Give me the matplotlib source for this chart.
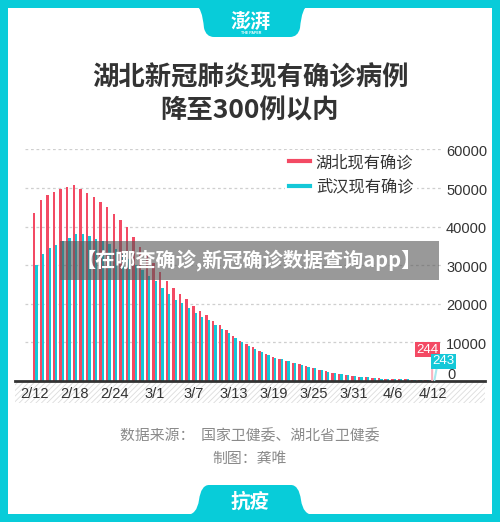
import matplotlib
matplotlib.use('Agg')
import matplotlib.pyplot as plt
from matplotlib.patches import Rectangle, PathPatch
from matplotlib.path import Path
from matplotlib.lines import Line2D
import matplotlib.transforms as mtransforms

plt.rcParams['font.family'] = ['Noto Sans CJK SC', 'DejaVu Sans']
plt.rcParams['hatch.linewidth'] = 0.6

# existing confirmed cases per day, 2/12 .. 4/12
hubei = [43455, 46806, 48175, 49030, 49847, 50338, 50633, 49665, 48730, 47647,
         46439, 45054, 43369, 41660, 39755, 37263, 34715, 32959, 30543, 28216,
         25905, 23972, 22628, 21239, 19486, 18248, 16993, 15593, 14407, 13171,
         11755, 10431, 9605, 8701, 7750, 6988, 6287, 5719, 5224, 4768,
         4316, 3843, 3437, 2900, 2529, 2130, 1826, 1462, 1283, 1132,
         987, 834, 648, 577, 518, 467, 403, 352, 323, 300, 244]
wuhan = [30043, 33000, 34400, 35300, 36300, 37100, 38000, 38020, 37500, 36700,
         36200, 35600, 34300, 33000, 31500, 30000, 28700, 27300, 25900, 24100,
         22400, 21000, 20100, 18900, 17700, 16600, 15700, 14500, 13500, 12400,
         11100, 10000, 9100, 8300, 7500, 6700, 6000, 5600, 5100, 4700,
         4200, 3600, 3300, 2800, 2300, 2000, 1700, 1500, 1300, 1100,
         950, 850, 640, 570, 510, 460, 400, 350, 320, 298, 243]
tick_days = [0, 6, 12, 18, 24, 30, 36, 42, 48, 54, 60]
tick_labels = ['2/12', '2/18', '2/24', '3/1', '3/7', '3/13', '3/19', '3/25', '3/31', '4/6', '4/12']
y_ticks = [0, 10000, 20000, 30000, 40000, 50000, 60000]
series_names = ['湖北现有确诊', '武汉现有确诊']

RED = '#F34A64'
CYAN = '#14C8D8'
TEAL = '#08CCD9'
DARK = '#333333'
NUM_FONT = ['Liberation Sans', 'Noto Sans CJK SC']

W, H = 500, 522
fig = plt.figure(figsize=(W / 100, H / 100), dpi=100)
fig.patch.set_facecolor(TEAL)


def fx(x):
    return x / W


def fy(y):
    return 1 - y / H


def pix_path(pts, codes):
    return Path([(fx(x), fy(y)) for x, y in pts], codes)


# white panel
fig.add_artist(Rectangle((fx(8), fy(514)), fx(484), 506 / H, facecolor='white',
                         edgecolor='none', transform=fig.transFigure, zorder=-5))

# top tab with logo
M, L, C = Path.MOVETO, Path.LINETO, Path.CURVE3
top_pts = [(196, 6), (202, 7), (204, 28), (206, 37), (214, 37), (290, 37), (298, 37),
           (300, 28), (302, 7), (308, 6), (196, 6)]
top_codes = [M, C, C, C, C, L, C, C, C, C, Path.CLOSEPOLY]
fig.add_artist(PathPatch(pix_path(top_pts, top_codes), facecolor=TEAL, edgecolor='none',
                         transform=fig.transFigure, zorder=-4))
fig.text(fx(251), fy(21), '澎湃', color='white', fontsize=14.5, fontweight='bold',
         ha='center', va='center', fontstyle='italic')
fig.text(fx(251), fy(32.5), 'THE PAPER', color='white', fontsize=2.6, fontweight='bold',
         ha='center', va='center', family=NUM_FONT)

# bottom tab
bot_pts = [(186, 515), (197, 515), (199, 500), (201, 485), (209, 485), (291, 485),
           (299, 485), (301, 500), (303, 515), (314, 515), (186, 515)]
fig.add_artist(PathPatch(pix_path(bot_pts, top_codes), facecolor=TEAL, edgecolor='none',
                         transform=fig.transFigure, zorder=-4))
fig.text(fx(250), fy(502), '抗疫', color='white', fontsize=14, fontweight='bold',
         ha='center', va='center')

# title
fig.text(fx(250), fy(78), '湖北新冠肺炎现有确诊病例', color=DARK, fontsize=19,
         fontweight='bold', ha='center', va='center')
fig.text(fx(250), fy(111), '降至300例以内', color=DARK, fontsize=19,
         fontweight='bold', ha='center', va='center')

# hatched band under the x axis
fig.add_artist(Rectangle((fx(15), fy(403)), fx(470), 22 / H, facecolor='white',
                         edgecolor='#dcdcdc', hatch='//////', lw=0,
                         transform=fig.transFigure, zorder=-3))

# chart
ax = fig.add_axes([fx(15), fy(381), fx(470), (381 - 149.3) / H])
ax.set_facecolor('none')
ax.set_xlim(-3.0, 67.85)
ax.set_ylim(0, 60000)
days = list(range(len(hubei)))
ax.bar([d - 0.12 for d in days[:-1]], hubei[:-1], width=0.36, color=RED, zorder=3)
ax.bar([d + 0.23 for d in days[:-1]], wuhan[:-1], width=0.34, color=CYAN, zorder=3)

for v in y_ticks[1:]:
    ax.axhline(v, xmin=10 / 470, xmax=428 / 470, color='#cfcfcf', lw=0.9,
               ls=(0, (2.2, 2.2)), zorder=1)

for s in ['top', 'right', 'left']:
    ax.spines[s].set_visible(False)
ax.spines['bottom'].set_color(DARK)
ax.spines['bottom'].set_linewidth(2)
ax.spines['bottom'].set_zorder(4)
ax.set_yticks([])
ax.set_xticks(tick_days)
ax.set_xticklabels(tick_labels, family=NUM_FONT, fontsize=10.5, color=DARK)
ax.tick_params(axis='x', length=0, pad=4)

ytrans = mtransforms.blended_transform_factory(fig.transFigure, ax.transData)
for v in y_ticks[1:]:
    ax.text(fx(446), v - 700, str(v), transform=ytrans, family=NUM_FONT, fontsize=10.5,
            color=DARK, ha='left', va='center')
ax.text(fx(447), 400, '0', transform=ytrans, family=NUM_FONT, fontsize=10.5,
        color=DARK, ha='left', va='baseline')

# last-day labels
ax.annotate(str(hubei[-1]), xy=(days[-1] - 0.12, hubei[-1]), xytext=(-3.5, 22),
            textcoords='offset points', ha='center', va='center', color='white',
            family=NUM_FONT, fontsize=9.5,
            bbox=dict(boxstyle='square,pad=0.1', fc=RED, ec='none'),
            arrowprops=dict(arrowstyle='-', color='#f9b3bf', lw=1.5,
                            relpos=(0.72, 0), shrinkA=0, shrinkB=0), zorder=5)
ax.annotate(str(wuhan[-1]), xy=(days[-1] + 0.23, wuhan[-1]), xytext=(6.5, 13.5),
            textcoords='offset points', ha='center', va='center', color='white',
            family=NUM_FONT, fontsize=9.5,
            bbox=dict(boxstyle='square,pad=0.1', fc=CYAN, ec='none'),
            arrowprops=dict(arrowstyle='-', color='#a8e8ee', lw=1.5,
                            relpos=(0.2, 0), shrinkA=0, shrinkB=0), zorder=5)

handles = [Line2D([], [], color=RED, lw=3), Line2D([], [], color=CYAN, lw=3)]
leg = ax.legend(handles, series_names, loc='upper left',
                bbox_to_anchor=(fx(285), fy(150)), bbox_transform=fig.transFigure,
                borderaxespad=0, borderpad=0.25, frameon=True, fancybox=False,
                facecolor='white', edgecolor='none', framealpha=1, fontsize=11.7,
                handlelength=1.3, handletextpad=0.35, labelspacing=0.45,
                labelcolor=DARK)
leg.set_zorder(6)

# grey overlay strip
fig.add_artist(Rectangle((fx(60), fy(279.5)), fx(379), 38.5 / H, facecolor='#555555',
                         alpha=0.6, edgecolor='none', transform=fig.transFigure, zorder=2))
fig.text(fx(249), fy(260), '【在哪查确诊,新冠确诊数据查询app】', color='white',
         fontsize=14.5, fontweight='bold', ha='center', va='center', zorder=3)

# footer
fig.text(fx(250), fy(436), '数据来源：  国家卫健委、湖北省卫健委', color='#8a8a8a',
         fontsize=10.7, ha='center', va='center')
fig.text(fx(250), fy(459), '制图：龚唯', color='#8a8a8a', fontsize=10.7,
         ha='center', va='center')

fig.savefig('out.png', dpi=100)
